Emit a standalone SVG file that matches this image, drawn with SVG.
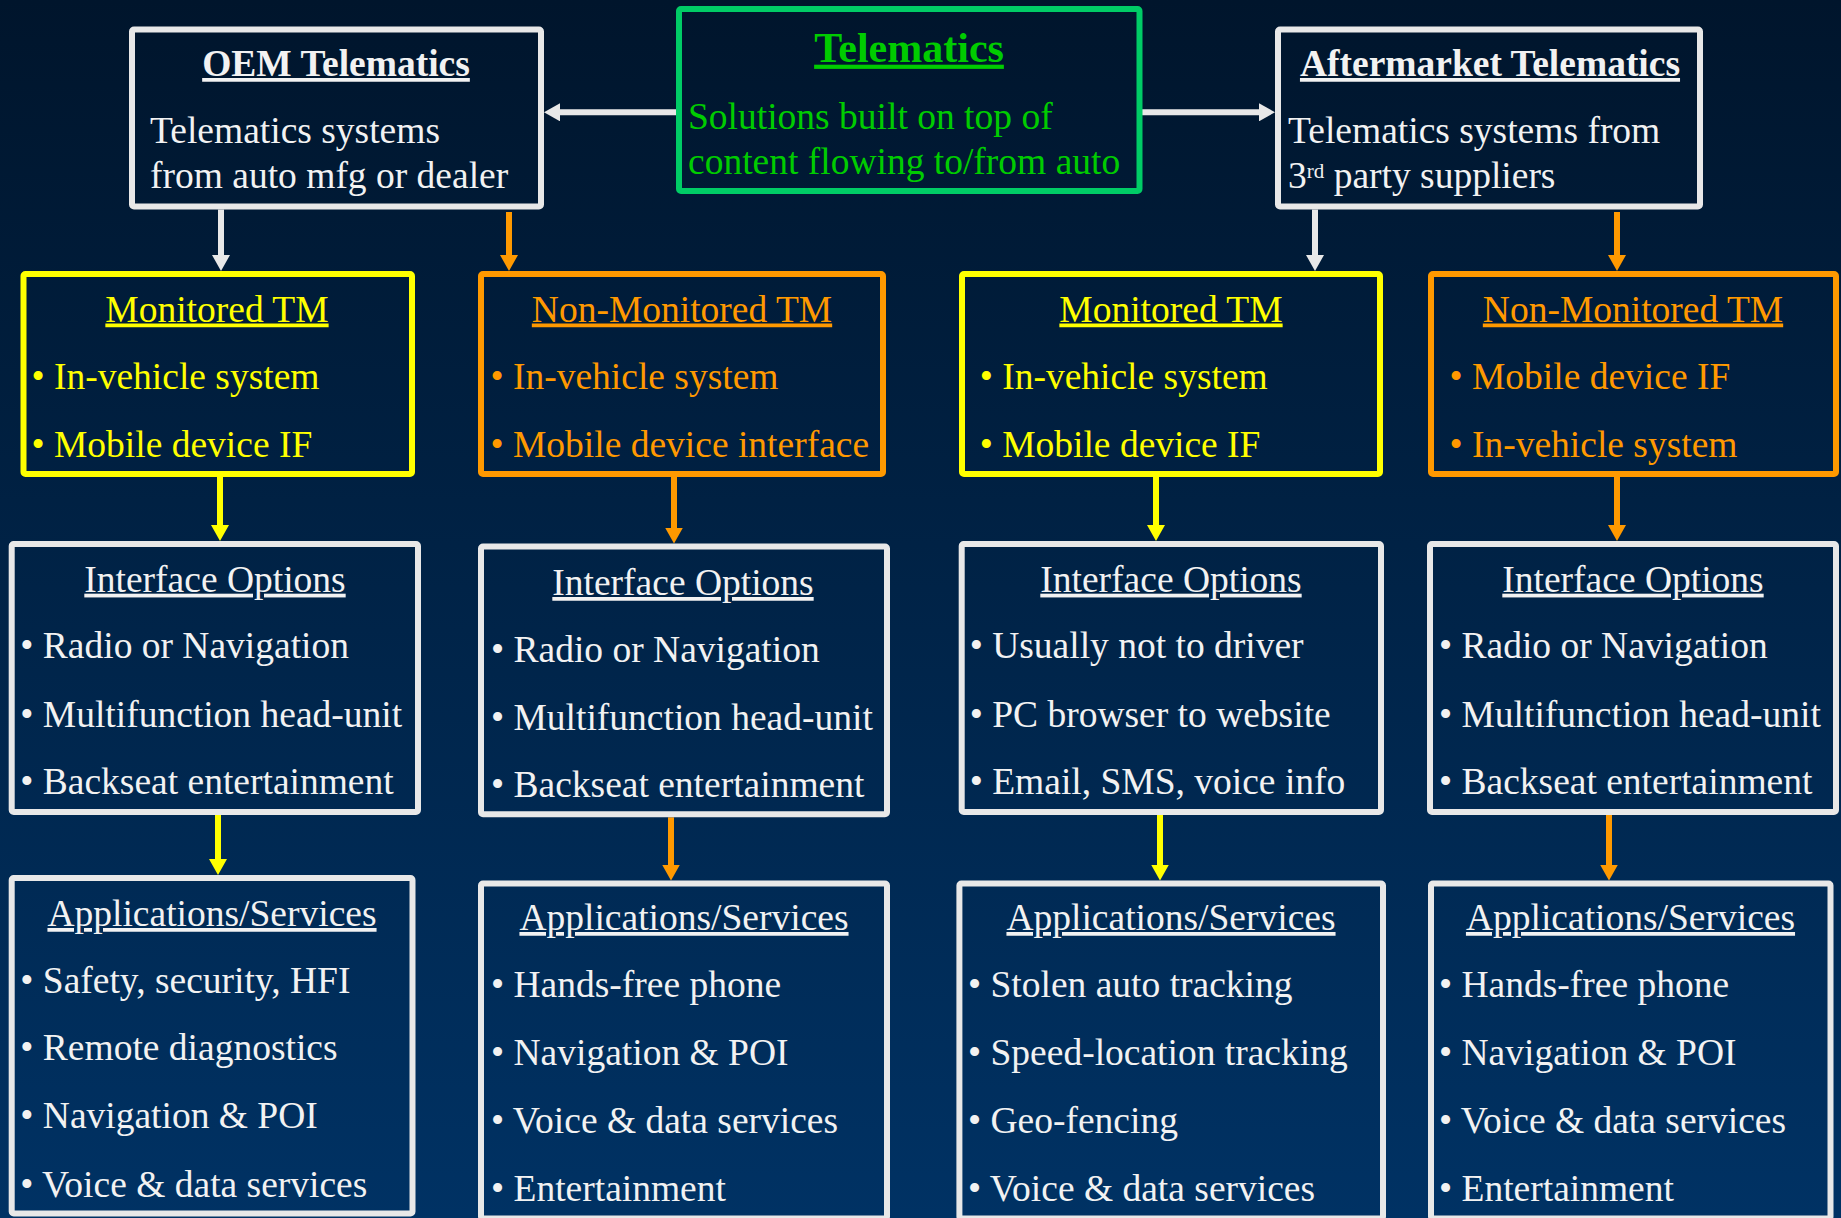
<svg xmlns="http://www.w3.org/2000/svg" width="1841" height="1218" viewBox="0 0 1841 1218">
  <defs>
    <linearGradient id="bg" x1="0" y1="0" x2="0" y2="1">
      <stop offset="0" stop-color="#00152c"/>
      <stop offset="1" stop-color="#003264"/>
    </linearGradient>
    <marker id="ah-w" viewBox="0 0 16 18" refX="4" refY="9" markerWidth="16" markerHeight="18" markerUnits="userSpaceOnUse" orient="auto">
      <path d="M0,0 L16,9 L0,18 z" fill="#e8e8e8"/>
    </marker>
    <marker id="ah-y" viewBox="0 0 16 18" refX="4" refY="9" markerWidth="16" markerHeight="18" markerUnits="userSpaceOnUse" orient="auto">
      <path d="M0,0 L16,9 L0,18 z" fill="#ffff00"/>
    </marker>
    <marker id="ah-o" viewBox="0 0 16 18" refX="4" refY="9" markerWidth="16" markerHeight="18" markerUnits="userSpaceOnUse" orient="auto">
      <path d="M0,0 L16,9 L0,18 z" fill="#ff9900"/>
    </marker>
  </defs>
  <style>
    .box { fill: none; stroke-width: 6; }
    .bw { stroke: #e8e8e8; }
    .by { stroke: #ffff00; }
    .bo { stroke: #ff9900; }
    .bg { stroke: #00cc66; }
    text { font-family: "Liberation Serif", "Times New Roman", serif; font-size: 37.5px; }
    .tw { fill: #f2f2f2; }
    .ty { fill: #ffff00; }
    .to { fill: #ff9900; }
    .tg { fill: #00cc00; }
    .u { text-decoration: underline; }
    .b { font-weight: bold; }
    .mid { text-anchor: middle; }
    .cw { stroke: #e8e8e8; stroke-width: 6; fill: none; marker-end: url(#ah-w); }
    .cy { stroke: #ffff00; stroke-width: 6; fill: none; marker-end: url(#ah-y); }
    .co { stroke: #ff9900; stroke-width: 6; fill: none; marker-end: url(#ah-o); }
  </style>

  <rect x="0" y="0" width="1841" height="1218" fill="url(#bg)"/>

  <!-- arrows between the boxes -->
  <g id="connectors">
    <line class="cw" x1="676" y1="112.3" x2="556" y2="112.3"/>
    <line class="cw" x1="1142" y1="112.3" x2="1263" y2="112.3"/>
    <line class="cw" x1="221" y1="209.5" x2="221" y2="259"/>
    <line class="co" x1="509" y1="212" x2="509" y2="259"/>
    <line class="cw" x1="1315" y1="209.5" x2="1315" y2="259"/>
    <line class="co" x1="1617" y1="212" x2="1617" y2="259"/>
    <line class="cy" x1="220" y1="477" x2="220" y2="529"/>
    <line class="co" x1="674" y1="477" x2="674" y2="531.5"/>
    <line class="cy" x1="1156" y1="477" x2="1156" y2="529"/>
    <line class="co" x1="1617" y1="477" x2="1617" y2="529"/>
    <line class="cy" x1="218" y1="815" x2="218" y2="863"/>
    <line class="co" x1="671" y1="817.3" x2="671" y2="868.5"/>
    <line class="cy" x1="1160" y1="815" x2="1160" y2="868.5"/>
    <line class="co" x1="1609" y1="815" x2="1609" y2="868.5"/>
  </g>

  <!-- top row -->
  <g id="telematics">
    <rect class="box bg" x="679" y="9" width="460.5" height="182" rx="2"/>
    <text class="tg b u mid" x="909" y="61.7" style="font-size:42px">Telematics</text>
    <text class="tg" x="688" y="129.3">Solutions built on top of</text>
    <text class="tg" x="688" y="174.3">content flowing to/from auto</text>
  </g>

  <g id="oem-telematics">
    <rect class="box bw" x="132" y="29.5" width="409" height="177" rx="2"/>
    <text class="tw b u mid" x="336" y="76">OEM Telematics</text>
    <text class="tw" x="150" y="143.3">Telematics systems</text>
    <text class="tw" x="150" y="188.3">from auto mfg or dealer</text>
  </g>

  <g id="aftermarket-telematics">
    <rect class="box bw" x="1278" y="29.5" width="422" height="177" rx="2"/>
    <text class="tw b u mid" x="1490" y="76">Aftermarket Telematics</text>
    <text class="tw" x="1288" y="143.3">Telematics systems from</text>
    <text class="tw" x="1288" y="188.3">3<tspan dy="-10" style="font-size:21px">rd</tspan><tspan dy="10"> party suppliers</tspan></text>
  </g>

  <!-- monitoring type -->
  <g id="oem-monitored">
    <rect class="box by" x="23.5" y="274" width="388.5" height="200" rx="2"/>
    <text class="ty u mid" x="217" y="321.5">Monitored TM</text>
    <text class="ty" x="31.5" y="389.3">• In-vehicle system</text>
    <text class="ty" x="31.5" y="457.3">• Mobile device IF</text>
  </g>

  <g id="oem-non-monitored">
    <rect class="box bo" x="481" y="274" width="402" height="200" rx="2"/>
    <text class="to u mid" x="682" y="321.5">Non-Monitored TM</text>
    <text class="to" x="490.5" y="389.3">• In-vehicle system</text>
    <text class="to" x="490.5" y="457.3">• Mobile device interface</text>
  </g>

  <g id="aftermarket-monitored">
    <rect class="box by" x="962" y="274" width="418" height="200" rx="2"/>
    <text class="ty u mid" x="1171" y="321.5">Monitored TM</text>
    <text class="ty" x="979.7" y="389.3">• In-vehicle system</text>
    <text class="ty" x="979.7" y="457.3">• Mobile device IF</text>
  </g>

  <g id="aftermarket-non-monitored">
    <rect class="box bo" x="1431" y="274" width="405" height="200" rx="2"/>
    <text class="to u mid" x="1633" y="321.5">Non-Monitored TM</text>
    <text class="to" x="1449.5" y="389.3">• Mobile device IF</text>
    <text class="to" x="1449.5" y="457.3">• In-vehicle system</text>
  </g>

  <!-- interface options -->
  <g id="oem-monitored-interface">
    <rect class="box bw" x="11.7" y="544" width="406.3" height="268" rx="2"/>
    <text class="tw u mid" x="215" y="591.7">Interface Options</text>
    <text class="tw" x="20.3" y="658.3">• Radio or Navigation</text>
    <text class="tw" x="20.3" y="726.5">• Multifunction head-unit</text>
    <text class="tw" x="20.3" y="794">• Backseat entertainment</text>
  </g>

  <g id="oem-non-monitored-interface">
    <rect class="box bw" x="481" y="546.5" width="406" height="267.8" rx="2"/>
    <text class="tw u mid" x="683" y="595">Interface Options</text>
    <text class="tw" x="491" y="661.7">• Radio or Navigation</text>
    <text class="tw" x="491" y="729.5">• Multifunction head-unit</text>
    <text class="tw" x="491" y="797.3">• Backseat entertainment</text>
  </g>

  <g id="aftermarket-monitored-interface">
    <rect class="box bw" x="961.7" y="544" width="419.3" height="268" rx="2"/>
    <text class="tw u mid" x="1171" y="591.7">Interface Options</text>
    <text class="tw" x="969.7" y="658.3">• Usually not to driver</text>
    <text class="tw" x="969.7" y="726.5">• PC browser to website</text>
    <text class="tw" x="969.7" y="794">• Email, SMS, voice info</text>
  </g>

  <g id="aftermarket-non-monitored-interface">
    <rect class="box bw" x="1430" y="544" width="406" height="268" rx="2"/>
    <text class="tw u mid" x="1633" y="591.7">Interface Options</text>
    <text class="tw" x="1439" y="658.3">• Radio or Navigation</text>
    <text class="tw" x="1439" y="726.5">• Multifunction head-unit</text>
    <text class="tw" x="1439" y="794">• Backseat entertainment</text>
  </g>

  <!-- applications and services -->
  <g id="oem-monitored-apps">
    <rect class="box bw" x="11.7" y="878" width="400.8" height="335.5" rx="2"/>
    <text class="tw u mid" x="212" y="926">Applications/Services</text>
    <text class="tw" x="20.3" y="992.7">• Safety, security, HFI</text>
    <text class="tw" x="20.3" y="1060">• Remote diagnostics</text>
    <text class="tw" x="20.3" y="1127.7">• Navigation &amp; POI</text>
    <text class="tw" x="20.3" y="1196.7">• Voice &amp; data services</text>
  </g>

  <g id="oem-non-monitored-apps">
    <rect class="box bw" x="481" y="883.5" width="406" height="335" rx="2"/>
    <text class="tw u mid" x="684" y="930">Applications/Services</text>
    <text class="tw" x="491" y="996.7">• Hands-free phone</text>
    <text class="tw" x="491" y="1065">• Navigation &amp; POI</text>
    <text class="tw" x="491" y="1133">• Voice &amp; data services</text>
    <text class="tw" x="491" y="1201">• Entertainment</text>
  </g>

  <g id="aftermarket-monitored-apps">
    <rect class="box bw" x="959.4" y="883.5" width="423.6" height="335" rx="2"/>
    <text class="tw u mid" x="1171" y="930">Applications/Services</text>
    <text class="tw" x="968" y="996.7">• Stolen auto tracking</text>
    <text class="tw" x="968" y="1065">• Speed-location tracking</text>
    <text class="tw" x="968" y="1133">• Geo-fencing</text>
    <text class="tw" x="968" y="1201">• Voice &amp; data services</text>
  </g>

  <g id="aftermarket-non-monitored-apps">
    <rect class="box bw" x="1431" y="883.5" width="399.5" height="335" rx="2"/>
    <text class="tw u mid" x="1630.5" y="930">Applications/Services</text>
    <text class="tw" x="1439" y="996.7">• Hands-free phone</text>
    <text class="tw" x="1439" y="1065">• Navigation &amp; POI</text>
    <text class="tw" x="1439" y="1133">• Voice &amp; data services</text>
    <text class="tw" x="1439" y="1201">• Entertainment</text>
  </g>
</svg>
